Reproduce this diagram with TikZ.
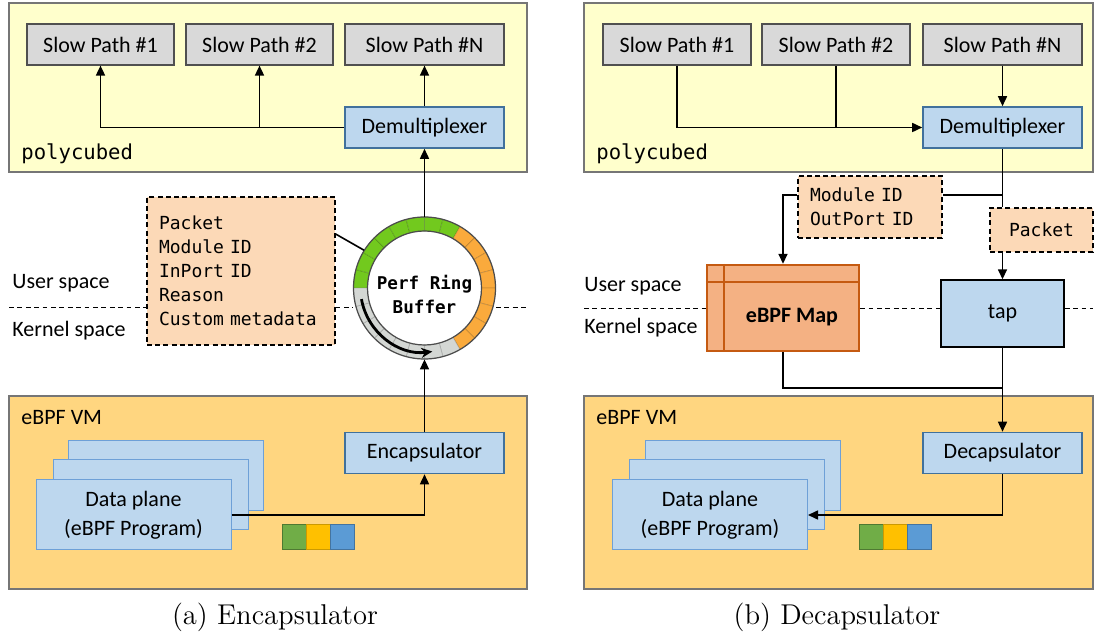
\documentclass[tikz,border=0pt]{standalone}
\usepackage{fontspec}
\newfontfamily\calibri{Carlito}
\newfontfamily\consolas[WordSpace={1,0,0}]{DejaVu Sans Mono}
\usepackage{xcolor}
\definecolor{PolyFill}{RGB}{255,255,204}
\definecolor{VmFill}{RGB}{255,214,128}
\definecolor{AreaLine}{RGB}{118,118,118}
\definecolor{SlowFill}{RGB}{217,217,217}
\definecolor{SlowLine}{RGB}{80,80,80}
\definecolor{BlueFill}{RGB}{189,215,238}
\definecolor{BlueLine}{RGB}{65,113,156}
\definecolor{PlaneLine}{RGB}{110,160,215}
\definecolor{Peach}{RGB}{252,217,183}
\definecolor{MapFill}{RGB}{244,177,131}
\definecolor{MapLine}{RGB}{197,90,17}
\definecolor{RingGreen}{RGB}{114,201,30}
\definecolor{RingOrange}{RGB}{250,170,60}
\definecolor{RingGray}{RGB}{212,215,212}
\definecolor{SqGreen}{RGB}{112,173,71}
\definecolor{SqYellow}{RGB}{255,192,0}
\definecolor{SqBlue}{RGB}{91,155,213}
\usepackage{tikz}
\usetikzlibrary{arrows.meta}
\tikzstyle{Area}=[draw=AreaLine,line width=0.8pt,inner sep=0pt]
\tikzstyle{Slow}=[draw=SlowLine,fill=SlowFill,line width=0.6pt,inner sep=0pt,
minimum height=20.5pt,font=\calibri\fontsize{11}{13}\selectfont]
\tikzstyle{Block}=[draw=BlueLine,fill=BlueFill,line width=0.8pt,inner sep=0pt,
minimum width=79.5pt,minimum height=20.5pt,font=\calibri\fontsize{11}{13}\selectfont]
\tikzstyle{Plane}=[draw=PlaneLine,fill=BlueFill,line width=0.5pt,inner sep=0pt,
minimum width=97.5pt,minimum height=35pt,align=center,
font=\calibri\fontsize{11}{14.5}\selectfont]
\tikzstyle{Meta}=[draw,fill=Peach,line width=0.6pt,dash pattern=on 2.5pt off 1.6pt,
inner sep=6pt,font=\consolas\fontsize{9}{12}\selectfont]
\tikzstyle{Sq}=[draw,line width=0.5pt,minimum width=12pt,minimum height=12.5pt,inner sep=0pt]
\tikzstyle{Txt}=[anchor=base west,inner sep=0pt,font=\calibri\fontsize{11}{13}\selectfont]
\tikzstyle{Mono}=[anchor=base west,inner sep=0pt,font=\consolas\fontsize{10.3}{12}\selectfont]
\tikzstyle{Caption}=[anchor=base,inner sep=0pt,font=\fontsize{14.3}{17}\selectfont]
\tikzstyle{RingText}=[align=center,inner sep=0pt,
font=\consolas\bfseries\fontsize{8.8}{12}\selectfont]
\tikzstyle{Edge}=[line width=0.8pt,-{Triangle[length=5pt,width=4.5pt]}]
\tikzstyle{Wire}=[line width=0.8pt]
\tikzstyle{Split}=[line width=0.5pt,dash pattern=on 2.4pt off 1.8pt]
\tikzstyle{Cell}=[draw=black,draw opacity=0.15,line width=0.4pt]
\tikzstyle{RingLine}=[draw=black!70,line width=0.6pt]
\tikzstyle{RingArrow}=[line width=1.4pt,-{Stealth[length=5.5pt,width=5pt]}]

\begin{document}
\begin{tikzpicture}[x=0.5pt,y=-0.5pt]
    \useasboundingbox(0,0)rectangle(1097,635);
    % (a) Encapsulator
    \node[Area,fill=PolyFill,minimum width=259pt,minimum height=84.5pt](polyA)at(268,87.5){};
    \node[Area,fill=VmFill,minimum width=259pt,minimum height=96.5pt](vmA)at(268,492.5){};
    \node[Mono](polyAT)at(21,160){polycubed};
    \node[Txt](vmAT)at(21,425){eBPF VM};
    \node[Txt](usrAT)at(12,289){User space};
    \node[Txt](krnAT)at(12,337){Kernel space};
    \node[Slow,minimum width=73.5pt](sp1A)at(100.5,44.5){Slow Path \#1};
    \node[Slow,minimum width=73.5pt](sp2A)at(259.5,44.5){Slow Path \#2};
    \node[Slow,minimum width=79.5pt](spNA)at(424.5,44.5){Slow Path \#N};
    \node[Block](demuxA)at(424.5,127.5){Demultiplexer};
    \node[Block](encA)at(424.5,453){Encapsulator};
    \node[Plane](dpA3)at(166,476){};
    \node[Plane](dpA2)at(150.5,495){};
    \node[Plane](dpA1)at(133.5,515){Data plane\\(eBPF Program)};
    \node[Sq,fill=SqGreen,draw=SqGreen!70!black](sqA1)at(294.5,537.5){};
    \node[Sq,fill=SqYellow,draw=SqYellow!80!black](sqA2)at(318.5,537.5){};
    \node[Sq,fill=SqBlue,draw=SqBlue!75!black](sqA3)at(342.5,537.5){};
    \node[Meta,text width=82pt,minimum height=74pt,align=left](metaA)at(241,271)
        {Packet\\Module ID\\InPort ID\\Reason\\Custom metadata};
    \node[circle,minimum size=71pt,inner sep=0pt](ring)at(424.5,288){};
    \coordinate(usrA)at(9,308);
    \coordinate(usrAend)at(527,308);
    \draw[Split](usrA)--(usrA-|metaA.west);
    \draw[Split](usrA-|metaA.east)--(usrA-|ring.west);
    \draw[Split](usrA-|ring.east)--(usrAend);
    \foreach \a in {180,195,...,285}{
        \filldraw[Cell,fill=RingGreen,shift={(424.5,288)}](\a:57)--(\a:71)
            arc[start angle=\a,end angle=\a+15,radius=71]--(\a+15:57)
            arc[start angle=\a+15,end angle=\a,radius=57]--cycle;}
    \foreach \a in {300,315,...,405}{
        \filldraw[Cell,fill=RingOrange,shift={(424.5,288)}](\a:57)--(\a:71)
            arc[start angle=\a,end angle=\a+15,radius=71]--(\a+15:57)
            arc[start angle=\a+15,end angle=\a,radius=57]--cycle;}
    \foreach \a in {60,75,...,165}{
        \filldraw[Cell,fill=RingGray,shift={(424.5,288)}](\a:57)--(\a:71)
            arc[start angle=\a,end angle=\a+15,radius=71]--(\a+15:57)
            arc[start angle=\a+15,end angle=\a,radius=57]--cycle;}
    \draw[RingLine](ring.center)circle[radius=71] circle[radius=57];
    \draw[RingArrow,shift={(424.5,288)}](170:64)arc[start angle=170,end angle=83,radius=64];
    \node[RingText](ringT)at(424.5,294){Perf Ring\\Buffer};
    \draw[Edge](demuxA.west)-|(sp1A.south);
    \draw[Edge](sp2A.south|-demuxA.west)--(sp2A.south);
    \draw[Edge](demuxA.north)--(spNA.south);
    \draw[Edge](ring.north)--(demuxA.south);
    \draw[Edge](encA.north)--(ring.south);
    \draw[Edge](dpA1.east)-|(encA.south);
    \draw[Wire]([yshift=18.5pt]metaA.east)--(ring.148);
    \node[Caption](capA)at(275,624){(a) Encapsulator};
    % (b) Decapsulator
    \node[Area,fill=PolyFill,minimum width=254.5pt,minimum height=84.5pt](polyB)at(838.5,87.5){};
    \node[Area,fill=VmFill,minimum width=254.5pt,minimum height=96.5pt](vmB)at(838.5,492.5){};
    \node[Mono](polyBT)at(596,160){polycubed};
    \node[Txt](vmBT)at(596,425){eBPF VM};
    \node[Txt](usrBT)at(584,292){User space};
    \node[Txt](krnBT)at(584,334){Kernel space};
    \node[Slow,minimum width=74pt](sp1B)at(677,44.5){Slow Path \#1};
    \node[Slow,minimum width=74pt](sp2B)at(836,44.5){Slow Path \#2};
    \node[Slow,minimum width=79.5pt](spNB)at(1002.5,44.5){Slow Path \#N};
    \node[Block](demuxB)at(1002.5,127.5){Demultiplexer};
    \node[Block](decB)at(1002.5,453){Decapsulator};
    \node[Plane](dpB3)at(742.5,476){};
    \node[Plane](dpB2)at(727,495){};
    \node[Plane](dpB1)at(710,515){Data plane\\(eBPF Program)};
    \node[Sq,fill=SqGreen,draw=SqGreen!70!black](sqB1)at(871,537.5){};
    \node[Sq,fill=SqYellow,draw=SqYellow!80!black](sqB2)at(895,537.5){};
    \node[Sq,fill=SqBlue,draw=SqBlue!75!black](sqB3)at(919,537.5){};
    \node[Meta,text width=60pt,minimum height=29pt,align=left](modB)at(870,207)
        {Module ID\\OutPort ID};
    \node[Meta,inner sep=0pt,minimum width=51.5pt,minimum height=22pt](pktB)at(1041.5,230){Packet};
    \node[draw=MapLine,fill=MapFill,line width=1.2pt,minimum width=76pt,minimum height=43pt,
        inner sep=0pt](mapB)at(783,308){};
    \draw[draw=MapLine,line width=1.2pt]([xshift=9pt]mapB.north west)--([xshift=9pt]mapB.south west);
    \draw[draw=MapLine,line width=1.2pt]([yshift=-9pt]mapB.north west)--([yshift=-9pt]mapB.north east);
    \node[inner sep=0pt,font=\calibri\bfseries\fontsize{11}{13}\selectfont](mapT)at(792,317){eBPF Map};
    \node[draw=black,fill=BlueFill,line width=0.7pt,minimum width=61.5pt,minimum height=33.5pt,
        inner sep=0pt,font=\calibri\fontsize{11}{13}\selectfont](tapB)at(1002.5,313.5){tap};
    \coordinate(usrB)at(584,309);
    \coordinate(usrBend)at(1093,309);
    \coordinate(jB)at(1002.5,195);
    \coordinate(mB)at(1002.5,388);
    \draw[Split](usrB)--(usrB-|mapB.west);
    \draw[Split](usrB-|mapB.east)--(usrB-|tapB.west);
    \draw[Split](usrB-|tapB.east)--(usrBend);
    \draw[Edge](sp1B.south)|-(demuxB.west);
    \draw[Wire](sp2B.south)--(sp2B.south|-demuxB.west);
    \draw[Edge](spNB.south)--(demuxB.north);
    \draw[Wire](demuxB.south)--(jB);
    \draw[Wire](jB)--(jB-|modB.east);
    \draw[Edge](jB-|modB.west)-|(mapB.north);
    \draw[Wire](jB)--(jB|-pktB.north);
    \draw[Edge](jB|-pktB.south)--(tapB.north);
    \draw[Wire](mapB.south)|-(mB);
    \draw[Edge](tapB.south)--(decB.north);
    \draw[Edge](decB.south)|-(dpB1.east);
    \node[Caption](capB)at(837,624){(b) Decapsulator};
\end{tikzpicture}
\end{document}
